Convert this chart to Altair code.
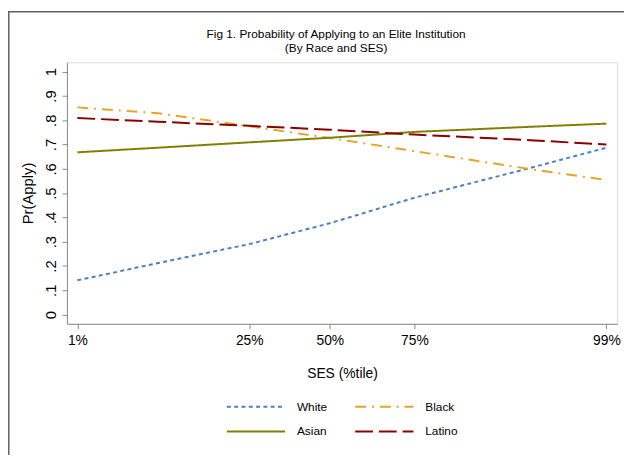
import altair as alt
import pandas as pd

# SES score (standardised units) at which predictions are shown
ses = [-1.88, -1.28, -0.60, 0.00, 0.63, 1.49, 2.06]
white = [0.141, 0.212, 0.290, 0.376, 0.481, 0.603, 0.687]
black = [0.853, 0.829, 0.775, 0.727, 0.673, 0.599, 0.554]
asian = [0.668, 0.687, 0.709, 0.728, 0.752, 0.773, 0.786]
latino = [0.809, 0.794, 0.777, 0.761, 0.741, 0.718, 0.700]

races = ["White", "Black", "Asian", "Latino"]
colors = ["#4a80bd", "#e5a526", "#808000", "#8b0000"]
dashes = [[4, 3.4], [11, 6, 2, 6], [1, 0], [18, 6]]

tick_ses = [-1.88, -0.60, 0.00, 0.63, 2.06]
tick_labels = ["1%", "25%", "50%", "75%", "99%"]

rows = []
for name, vals in zip(races, [white, black, asian, latino]):
    for s, v in zip(ses, vals):
        rows.append({"ses": s, "p": v, "race": name})
df = pd.DataFrame(rows)

label_expr = " : ".join(
    f"datum.value == {v} ? '{l}'" for v, l in zip(tick_ses, tick_labels)
) + " : ''"

FONT = "Liberation Sans"

lines = alt.Chart(df).mark_line(strokeWidth=2, clip=True).encode(
    x=alt.X("ses:Q",
            scale=alt.Scale(domain=[-1.958, 2.140], nice=False, zero=False),
            axis=alt.Axis(title="SES (%tile)", values=tick_ses, labelExpr=label_expr,
                          grid=False, tickSize=5, labelPadding=5, titlePadding=19,
                          labelFontSize=14, titleFontSize=14, titleFontWeight="normal")),
    y=alt.Y("p:Q",
            scale=alt.Scale(domain=[-0.038, 1.039], nice=False, zero=False),
            axis=alt.Axis(title="Pr(Apply)",
                          values=[0, 0.1, 0.2, 0.3, 0.4, 0.5, 0.6, 0.7, 0.8, 0.9, 1.0],
                          labelExpr="datum.value == 0 ? '0' : datum.value == 1 ? '1' : replace(format(datum.value, '.1f'), '0.', '.')",
                          grid=False, tickSize=5, labelAngle=270, labelAlign="center",
                          labelBaseline="alphabetic", labelPadding=7, titlePadding=8,
                          labelFontSize=15, titleFontSize=15, titleFontWeight="normal")),
    color=alt.Color("race:N", scale=alt.Scale(domain=races, range=colors),
                    sort=races,
                    legend=alt.Legend(title=None, orient="none", legendX=161, legendY=342,
                                      columns=2, direction="horizontal",
                                      symbolType="stroke", symbolSize=3481, clipHeight=14,
                                      symbolStrokeWidth=2, labelFontSize=12, labelOffset=11,
                                      columnPadding=27, rowPadding=11, labelFont=FONT)),
    strokeDash=alt.StrokeDash("race:N", scale=alt.Scale(domain=races, range=dashes),
                              sort=races, legend=alt.Legend(title=None)),
)

border_data = pd.DataFrame({"k": [0]})
border_left = alt.Chart(border_data).mark_rule(color="#606060", strokeWidth=1.5).encode(
    x=alt.value(-58.9), y=alt.value(-51.2), y2=alt.value(480))
border_top = alt.Chart(border_data).mark_rule(color="#606060", strokeWidth=1.5).encode(
    x=alt.value(-59.7), x2=alt.value(600), y=alt.value(-51.2))

chart = alt.layer(lines, border_left, border_top).properties(
    width=557.3, height=265,
    title=alt.TitleParams(["Fig 1. Probability of Applying to an Elite Institution",
                           "(By Race and SES)"],
                          fontSize=12, font=FONT, fontWeight="normal", color="black",
                          anchor="middle", frame="group", offset=6, lineHeight=15,
                          dx=-6, dy=51),
    autosize=alt.AutoSizeParams(type="none"),
    padding={"left": 59.7, "top": 52, "right": 7, "bottom": 130},
).configure_view(stroke=None).configure_axis(
    labelFont=FONT, titleFont=FONT, titleFontWeight="normal", labelColor="black",
    titleColor="black", domainColor="black", tickColor="black", domainWidth=1,
    tickWidth=1,
).configure(background="white")

chart.save("out.html", embed_options={"renderer": "svg", "actions": False})
